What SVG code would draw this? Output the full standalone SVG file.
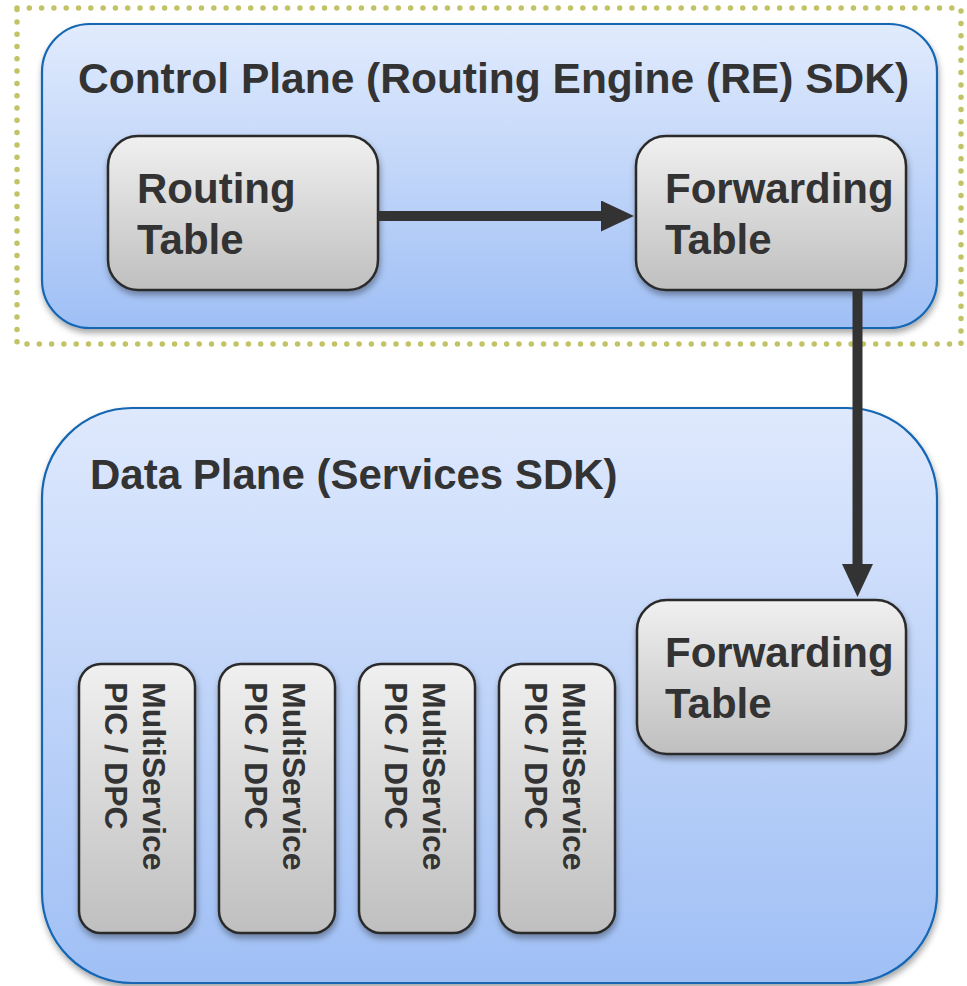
<svg xmlns="http://www.w3.org/2000/svg" width="967" height="986" viewBox="0 0 967 986">
<style>
.t{font-family:"Liberation Sans",Arial,sans-serif;font-weight:bold;fill:#333333}
.big{font-size:42px}
.title{font-size:42.5px}
.sm{font-size:32px}
.plane{stroke:#1366b3;stroke-width:2.2}
.node{fill:url(#gray);stroke:#2b2b2b;stroke-width:2.5}
.conn{stroke:#333333;stroke-width:10;fill:none}
</style>
<defs>
<linearGradient id="blue1" x1="0" y1="0" x2="0" y2="1">
<stop offset="0" stop-color="#e1ebfd"/>
<stop offset="1" stop-color="#9fbff5"/>
</linearGradient>
<linearGradient id="blue2" x1="0" y1="0" x2="0" y2="1">
<stop offset="0" stop-color="#dfe9fd"/>
<stop offset="1" stop-color="#9fbff5"/>
</linearGradient>
<linearGradient id="gray" x1="0" y1="0" x2="0" y2="1">
<stop offset="0" stop-color="#f0f0f0"/>
<stop offset="1" stop-color="#bfbfbf"/>
</linearGradient>
<filter id="sh" x="-10%" y="-10%" width="120%" height="130%">
<feDropShadow dx="1" dy="4" stdDeviation="3" flood-color="#000" flood-opacity="0.35"/>
</filter>
<marker id="ah" markerUnits="userSpaceOnUse" markerWidth="34" markerHeight="32" refX="0" refY="15.5" orient="auto">
<path d="M0,0 L33,15.5 L0,31 z" fill="#333333"/>
</marker>
</defs>
<rect width="967" height="986" fill="#ffffff"/>

<g id="re-boundary">
<rect x="17" y="8" width="944" height="336" fill="none" stroke="#c2c266" stroke-width="5.5" stroke-linecap="round" stroke-dasharray="0 12.3"/>
</g>

<g id="control-plane">
<rect class="plane" x="42" y="24" width="895" height="304" rx="48" fill="url(#blue1)" filter="url(#sh)"/>
<text class="t title" x="78" y="93">Control Plane (Routing Engine (RE) SDK)</text>
</g>

<g id="data-plane">
<rect class="plane" x="42" y="408" width="895" height="575" rx="90" fill="url(#blue2)" filter="url(#sh)"/>
<text class="t big" x="90" y="489">Data Plane (Services SDK)</text>
</g>

<g id="routing-table">
<rect class="node" x="108" y="136" width="270" height="154" rx="30" filter="url(#sh)"/>
<text class="t big" x="137" y="203">Routing</text>
<text class="t big" x="137" y="254">Table</text>
</g>

<g id="forwarding-table-re">
<rect class="node" x="636" y="136" width="270" height="154" rx="30" filter="url(#sh)"/>
<text class="t big" x="665" y="203">Forwarding</text>
<text class="t big" x="665" y="254">Table</text>
</g>

<g id="forwarding-table-dp">
<rect class="node" x="637" y="600" width="269" height="154" rx="30" filter="url(#sh)"/>
<text class="t big" x="665" y="667">Forwarding</text>
<text class="t big" x="665" y="718">Table</text>
</g>

<g id="pic1">
<rect class="node" x="79" y="664" width="116" height="269" rx="22" filter="url(#sh)"/>
<text class="t sm" transform="translate(143,682) rotate(90)"><tspan x="0" y="0">MultiService</tspan><tspan x="0" y="38">PIC / DPC</tspan></text>
</g>
<g id="pic2">
<rect class="node" x="219" y="664" width="116" height="269" rx="22" filter="url(#sh)"/>
<text class="t sm" transform="translate(283,682) rotate(90)"><tspan x="0" y="0">MultiService</tspan><tspan x="0" y="38">PIC / DPC</tspan></text>
</g>
<g id="pic3">
<rect class="node" x="359" y="664" width="116" height="269" rx="22" filter="url(#sh)"/>
<text class="t sm" transform="translate(423,682) rotate(90)"><tspan x="0" y="0">MultiService</tspan><tspan x="0" y="38">PIC / DPC</tspan></text>
</g>
<g id="pic4">
<rect class="node" x="499" y="664" width="116" height="269" rx="22" filter="url(#sh)"/>
<text class="t sm" transform="translate(563,682) rotate(90)"><tspan x="0" y="0">MultiService</tspan><tspan x="0" y="38">PIC / DPC</tspan></text>
</g>

<g id="connectors">
<line class="conn" x1="378" y1="216" x2="601" y2="216" marker-end="url(#ah)"/>
<line class="conn" x1="857.5" y1="290" x2="857.5" y2="564" marker-end="url(#ah)"/>
</g>
</svg>
